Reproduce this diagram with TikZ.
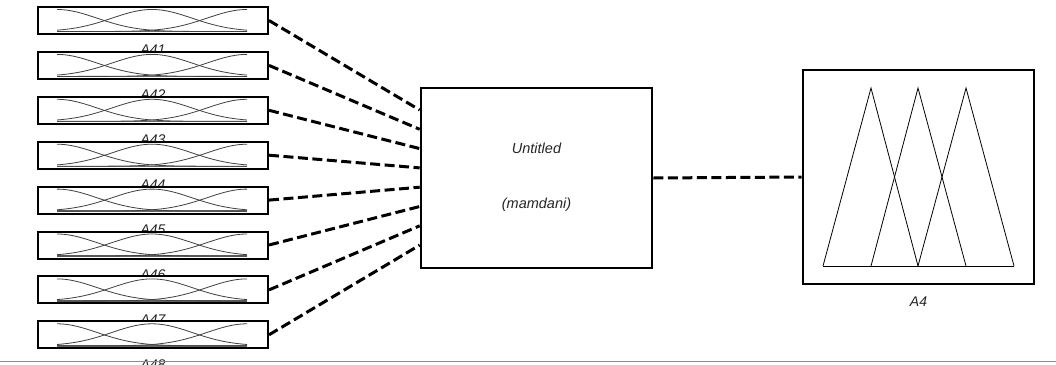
\documentclass[tikz,border=0pt]{standalone}
\usepackage{fontspec}
\setmainfont{Liberation Sans}
\begin{document}
\begin{tikzpicture}[x=1pt,y=-1pt,
  inbox/.style={draw=black, line width=2pt, fill=white, minimum width=230pt, minimum height=27pt, inner sep=0pt},
  bigbox/.style={draw=black, line width=2.6pt, fill=white, inner sep=0pt},
  lbl/.style={font=\fontsize{14}{16}\selectfont\itshape, inner sep=0pt, anchor=base, text=black!85},
  link/.style={line width=3pt, dash pattern=on 10pt off 4.5pt},
  mf/.style={line width=0.8pt, draw=black!75},
  tri/.style={line width=0.8pt, draw=black},
]
\useasboundingbox (0,0) rectangle (1056,364);
\clip (0,0) rectangle (1056,364);
\fill[white] (0,0) rectangle (1056,364);

% labels under the input boxes (partly hidden by the next box)
\foreach \i in {1,...,8} {
  \node[lbl] (l\i) at (153, {7+44.9*\i+3}) {A4\i};
}
% input boxes with membership functions
\foreach \i in {1,...,8} {
  \pgfmathsetmacro{\T}{7+44.9*(\i-1)}
  \node[inbox] (in\i) at (153, \T+13.5) {};
  \draw[line width=1.4pt, black!60] (57,\T+24.5) -- (247,\T+24.5);
  \foreach \c in {57,152,247}
    \draw[mf] plot[domain=57:247, samples=70, smooth] (\x, {\T+24.5-22*exp(-0.5*((\x-\c)/40)^2)});
}

% rule system box
\node[bigbox, minimum width=231pt, minimum height=180pt] (mid) at (536.5,178) {};
\node[lbl, font=\fontsize{14.5}{16}\selectfont\itshape] (t1) at (536.5,153) {Untitled};
\node[lbl, font=\fontsize{14.5}{16}\selectfont\itshape] (t2) at (536.5,208) {(mamdani)};

% output box
\node[bigbox, minimum width=231pt, minimum height=214pt] (out) at (918.5,177) {};
\draw[tri] (823,266) -- (1014,266);
\draw[tri] (823,266) -- (871,88) -- (918,266);
\draw[tri] (871,266) -- (918,88) -- (966,266);
\draw[tri] (918,266) -- (966,88) -- (1014,266);
\node[lbl] (t3) at (918.5,306) {A4};

% connectors
\foreach \i in {1,...,8} {
  \pgfmathsetmacro{\ys}{68-19.3*(\i-1)}
  \coordinate (m\i) at ([yshift=\ys pt]mid.west);
  \draw[link] (in\i.east) -- (m\i);
}
\draw[link] (mid.east) -- (out.west);

% bottom rule
\draw[black!45, line width=1.5pt] (0,361.5) -- (1056,361.5);
\end{tikzpicture}
\end{document}
